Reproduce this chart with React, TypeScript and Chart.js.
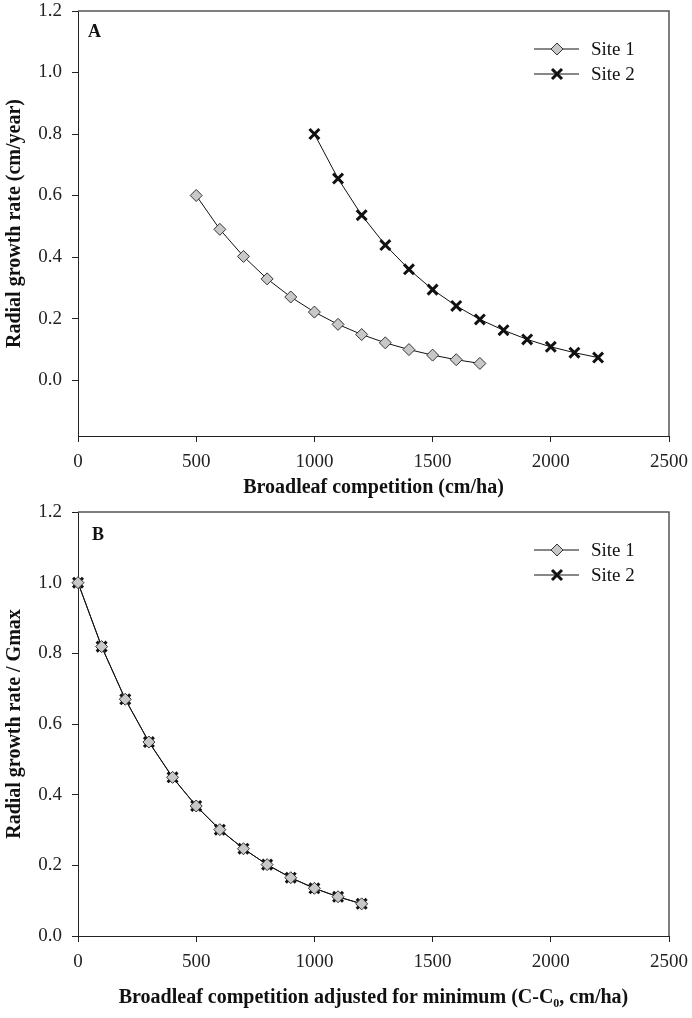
import React, { useEffect, useRef } from "react";
import { Chart, registerables } from "chart.js";

Chart.register(...registerables);

const FONT = "'Liberation Serif', 'Times New Roman', serif";

// Panel A data
const competitionA1 = [500, 600, 700, 800, 900, 1000, 1100, 1200, 1300, 1400, 1500, 1600, 1700];
const growthA1 = [0.6, 0.49, 0.402, 0.329, 0.27, 0.221, 0.181, 0.148, 0.121, 0.099, 0.081, 0.066, 0.054];
const competitionA2 = [1000, 1100, 1200, 1300, 1400, 1500, 1600, 1700, 1800, 1900, 2000, 2100, 2200];
const growthA2 = [0.8, 0.655, 0.536, 0.439, 0.36, 0.294, 0.241, 0.197, 0.162, 0.132, 0.108, 0.089, 0.073];

// Panel B data
const competitionB = [0, 100, 200, 300, 400, 500, 600, 700, 800, 900, 1000, 1100, 1200];
const relGrowthB1 = [1.0, 0.819, 0.67, 0.549, 0.449, 0.368, 0.301, 0.247, 0.202, 0.165, 0.135, 0.111, 0.091];
const relGrowthB2 = [1.0, 0.819, 0.67, 0.549, 0.449, 0.368, 0.301, 0.247, 0.202, 0.165, 0.135, 0.111, 0.091];

const xTicks = [0, 500, 1000, 1500, 2000, 2500];
const yTicks = [0, 0.2, 0.4, 0.6, 0.8, 1.0, 1.2];
const seriesNames = ["Site 1", "Site 2"];

const toPoints = (xs: number[], ys: number[]) => xs.map((x, i) => ({ x, y: ys[i] }));

function drawMarker(ctx: CanvasRenderingContext2D, kind: number, x: number, y: number) {
  ctx.save();
  if (kind === 0) {
    const r = 6;
    ctx.beginPath();
    ctx.moveTo(x - r, y);
    ctx.lineTo(x, y - r);
    ctx.lineTo(x + r, y);
    ctx.lineTo(x, y + r);
    ctx.closePath();
    ctx.fillStyle = "#c8c8c8";
    ctx.fill();
    ctx.strokeStyle = "#333";
    ctx.lineWidth = 1;
    ctx.stroke();
  } else {
    const r = 5;
    ctx.beginPath();
    ctx.moveTo(x - r, y - r);
    ctx.lineTo(x + r, y + r);
    ctx.moveTo(x + r, y - r);
    ctx.lineTo(x - r, y + r);
    ctx.strokeStyle = "#111";
    ctx.lineWidth = 3;
    ctx.stroke();
  }
  ctx.restore();
}

function panelPlugin(letter: string, letterDx: number, letterDy: number) {
  return {
    id: "panel" + letter,
    afterDraw(chart: any) {
      const { ctx, chartArea: a } = chart;
      ctx.save();
      // top and right frame
      ctx.strokeStyle = "#555";
      ctx.lineWidth = 1.5;
      ctx.beginPath();
      ctx.moveTo(a.left, a.top);
      ctx.lineTo(a.right, a.top);
      ctx.lineTo(a.right, a.bottom);
      ctx.stroke();
      // panel letter
      ctx.fillStyle = "#111";
      ctx.font = "bold 18px " + FONT;
      ctx.textAlign = "left";
      ctx.textBaseline = "middle";
      ctx.fillText(letter, a.left + letterDx, a.top + letterDy);
      // legend
      const rows = [a.top + 38, a.top + 63];
      rows.forEach((yy, i) => {
        ctx.strokeStyle = "#111";
        ctx.lineWidth = 1;
        ctx.beginPath();
        ctx.moveTo(534, yy);
        ctx.lineTo(579, yy);
        ctx.stroke();
        drawMarker(ctx, i, 557, yy);
        ctx.fillStyle = "#111";
        ctx.font = "19px " + FONT;
        ctx.textAlign = "left";
        ctx.textBaseline = "middle";
        ctx.fillText(seriesNames[i], 591, yy + 1);
      });
      ctx.restore();
    },
  };
}

function makeOptions(
  yMin: number,
  yTitle: string,
  xTitle: string,
  padTop: number,
  xAxisHeight: number,
  xTitlePadBottom: number
) {
  const axisColor = "#222";
  return {
    responsive: false,
    animation: false as const,
    layout: { padding: { top: padTop, right: 23, left: 0, bottom: 0 } },
    plugins: { legend: { display: false }, tooltip: { enabled: false } },
    scales: {
      x: {
        type: "linear" as const,
        min: 0,
        max: 2500,
        afterBuildTicks: (s: any) => {
          s.ticks = xTicks.map((v) => ({ value: v }));
        },
        afterFit: (s: any) => {
          s.height = xAxisHeight;
          s.paddingLeft = 0;
          s.paddingRight = 0;
        },
        grid: { drawOnChartArea: false, drawTicks: true, tickLength: 6, color: axisColor },
        border: { display: true, color: axisColor, width: 1 },
        ticks: {
          color: "#222",
          padding: 9,
          maxRotation: 0,
          font: { family: FONT, size: 19 },
          callback: (v: any) => String(v),
        },
        title: {
          display: true,
          text: xTitle,
          color: "#111",
          font: { family: FONT, size: 20, weight: "bold" as const },
          padding: { top: 0, bottom: xTitlePadBottom },
        },
      },
      y: {
        type: "linear" as const,
        min: yMin,
        max: 1.2,
        afterBuildTicks: (s: any) => {
          s.ticks = yTicks.map((v) => ({ value: v }));
        },
        afterFit: (s: any) => {
          s.width = 78;
          s.paddingTop = 0;
          s.paddingBottom = 0;
        },
        grid: { drawOnChartArea: false, drawTicks: true, tickLength: 6, color: axisColor },
        border: { display: true, color: axisColor, width: 1 },
        ticks: {
          color: "#222",
          padding: 10,
          font: { family: FONT, size: 19 },
          callback: (v: any) => Number(v).toFixed(1),
        },
        title: {
          display: true,
          text: yTitle,
          color: "#111",
          font: { family: FONT, size: 20, weight: "bold" as const },
          padding: { top: 3, bottom: 0 },
        },
      },
    },
  };
}

function siteDatasets(p1: { x: number; y: number }[], p2: { x: number; y: number }[]) {
  return [
    {
      label: seriesNames[0],
      data: p1,
      borderColor: "#111",
      borderWidth: 1,
      pointStyle: "rectRot",
      pointRadius: 6,
      pointBackgroundColor: "#c8c8c8",
      pointBorderColor: "#333",
      pointBorderWidth: 1,
      tension: 0,
      clip: false as any,
    },
    {
      label: seriesNames[1],
      data: p2,
      borderColor: "#111",
      borderWidth: 1,
      pointStyle: "crossRot",
      pointRadius: 7,
      pointBorderColor: "#111",
      pointBorderWidth: 3,
      tension: 0,
      clip: false as any,
    },
  ];
}

export default function App() {
  const refA = useRef<HTMLCanvasElement>(null);
  const refB = useRef<HTMLCanvasElement>(null);

  useEffect(() => {
    const chartA = new Chart(refA.current as HTMLCanvasElement, {
      type: "line",
      data: {
        datasets: siteDatasets(toPoints(competitionA1, growthA1), toPoints(competitionA2, growthA2)) as any,
      },
      options: makeOptions(
        -0.182,
        "Radial growth rate (cm/year)",
        "Broadleaf competition (cm/ha)",
        11,
        66,
        2
      ) as any,
      plugins: [panelPlugin("A", 10, 21)],
    });
    const chartB = new Chart(refB.current as HTMLCanvasElement, {
      type: "line",
      data: {
        datasets: siteDatasets(toPoints(competitionB, relGrowthB1), toPoints(competitionB, relGrowthB2)) as any,
      },
      options: makeOptions(
        0,
        "Radial growth rate / Gmax",
        "Broadleaf competition adjusted for minimum (C-C\u2080, cm/ha)",
        8,
        82,
        8
      ) as any,
      plugins: [panelPlugin("B", 14, 23)],
    });
    return () => {
      chartA.destroy();
      chartB.destroy();
    };
  }, []);

  return (
    <div style={{ position: "absolute", left: 0, top: 0, width: 692, height: 1018, background: "#fff" }}>
      <canvas ref={refA} width={692} height={502} style={{ display: "block", width: 692, height: 502 }} />
      <canvas ref={refB} width={692} height={516} style={{ display: "block", width: 692, height: 516 }} />
    </div>
  );
}
